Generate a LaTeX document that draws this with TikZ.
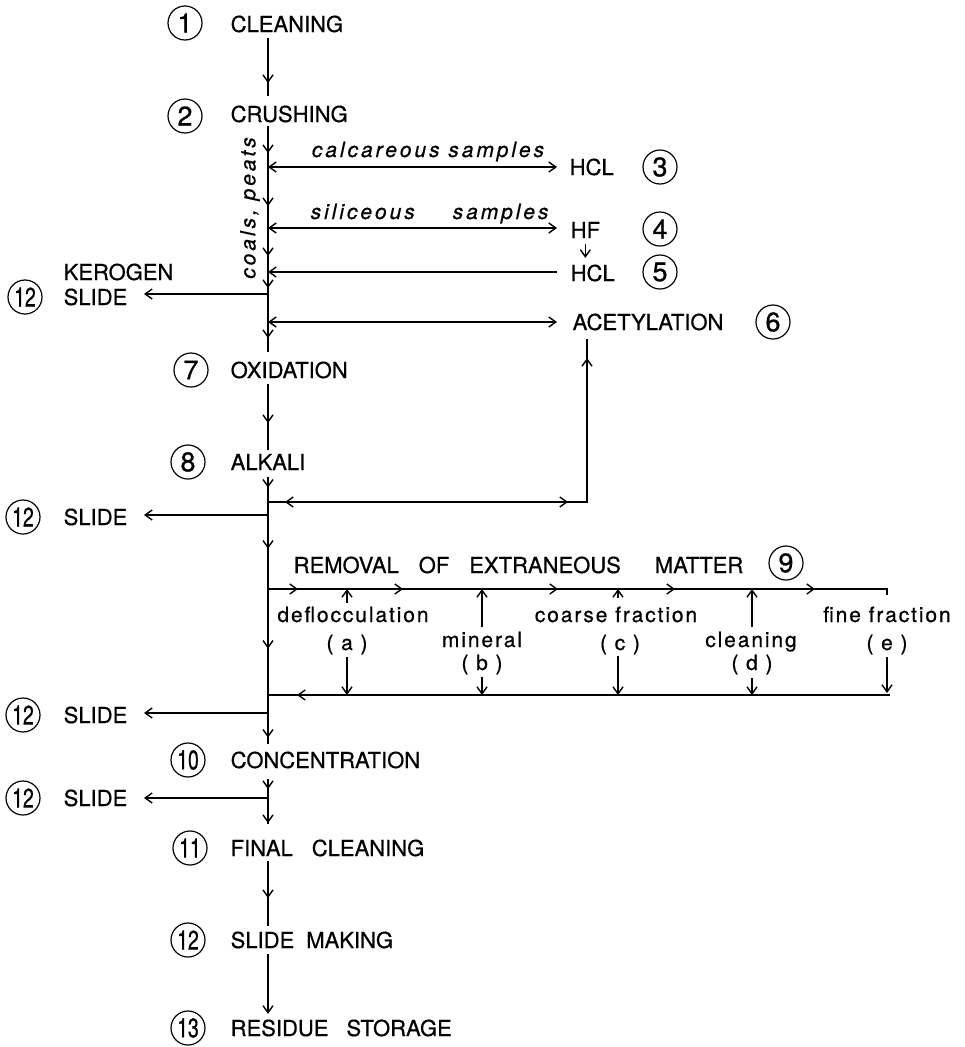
\documentclass[tikz,border=0pt]{standalone}
\usepackage{fontspec}
\usepackage{graphicx}
\setmainfont{TeX Gyre Heros}[FakeBold=0.6]
\newfontfamily\lcfont[LetterSpace=9,FakeBold=0.6]{TeX Gyre Heros}
\newfontfamily\itfont[LetterSpace=14,FakeBold=0.6]{TeX Gyre Heros Italic}
\usetikzlibrary{arrows.meta,decorations.markings,calc}
\newcommand\twodig[1]{\scalebox{0.72}[1]{#1}}
\tikzset{
  >={Straight Barb[length=7pt,width=10pt]},
  maintxt/.style={inner sep=0pt, anchor=base west, font=\fontsize{22}{26}\selectfont},
  lctxt/.style={inner sep=0pt, anchor=base, font=\lcfont\fontsize{21}{25}\selectfont},
  itxt/.style={inner sep=0pt, font=\itfont\fontsize{21}{25}\selectfont},
  num/.style={circle, draw, line width=1.2pt, minimum size=34pt, inner sep=0pt, font=\fontsize{27}{27}\selectfont},
  am/.style={postaction={decorate,decoration={markings,mark=at position #1 with {\arrow{>}}}}},
  amr/.style={postaction={decorate,decoration={markings,mark=at position #1 with {\arrowreversed{>}}}}},
}
\begin{document}
\begin{tikzpicture}[x=1pt,y=-1pt,line width=1.4pt]
\useasboundingbox (0,0) rectangle (965,1047);
\fill[white] (0,0) rectangle (965,1047);
% main steps
\node[num] (c1) at (185,23) {1};
\node[maintxt] (t1) at (230,32) {CLEANING};
\node[num] (c2) at (185,116) {2};
\node[maintxt] (t2) at (230,122) {CRUSHING};
\node[num] (c7) at (191,370) {7};
\node[maintxt] (t7) at (230,378) {OXIDATION};
\node[num] (c8) at (188,462) {8};
\node[maintxt] (t8) at (230,470) {ALKALI};
\node[num] (c10) at (188,760) {\twodig{10}};
\node[maintxt] (t10) at (230,768) {CONCENTRATION};
\node[num] (c11) at (190,848) {\twodig{11}};
\node[maintxt] (t11) at (230,856) {FINAL\hspace{19pt}CLEANING};
\node[num] (c12) at (188,940) {\twodig{12}};
\node[maintxt] (t12) at (230,948) {SLIDE\hspace{12pt}MAKING};
\node[num] (c13) at (188,1028) {\twodig{13}};
\node[maintxt] (t13) at (230,1036) {RESIDUE\hspace{18pt}STORAGE};
% right side
\node[maintxt] (hcl3) at (569,175) {HCL};
\node[num] (c3) at (660,167) {3};
\node[maintxt] (hf) at (570,238) {HF};
\node[num] (c4) at (660,229) {4};
\node[maintxt] (hcl5) at (570,281) {HCL};
\node[num] (c5) at (660,272) {5};
\node[maintxt] (acet) at (572,330) {ACETYLATION};
\node[num] (c6) at (773,322) {6};
% left side
\node[maintxt] (kero) at (63,280) {KEROGEN};
\node[maintxt] (ks) at (63,305) {SLIDE};
\node[num] (c12a) at (25,297) {\twodig{12}};
\node[maintxt] (s1) at (63,525) {SLIDE};
\node[num] (c12b) at (23,517) {\twodig{12}};
\node[maintxt] (s2) at (63,723) {SLIDE};
\node[num] (c12c) at (23,715) {\twodig{12}};
\node[maintxt] (s3) at (63,806) {SLIDE};
\node[num] (c12d) at (23,798) {\twodig{12}};
% removal
\node[maintxt] (rem) at (293,573) {REMOVAL\hspace{20pt}OF\hspace{20pt}EXTRANEOUS\hspace{34pt}MATTER};
\node[num] (c9) at (786,563) {9};
% lowercase labels
\node[itxt, anchor=base] (calc) at (428,157) {calcareous samples};
\node[itxt, anchor=base west] (sil) at (310,219) {siliceous\hspace{38pt}samples};
\node[itxt, rotate=90] (coal) at (250,208) {coals, peats};
\node[lctxt] (defl) at (353,622) {deflocculation};
\node[lctxt] (la) at (347,650) {( a )};
\node[lctxt] (mine) at (482,647) {mineral};
\node[lctxt] (lb) at (482,670) {( b )};
\node[lctxt] (coarse) at (616,622) {coarse fraction};
\node[lctxt] (lc) at (620,650) {( c )};
\node[lctxt] (clean) at (751,647) {cleaning};
\node[lctxt] (ld) at (752,670) {( d )};
\node[lctxt] (fine) at (887,622) {fine fraction};
\node[lctxt] (le) at (887,650) {( e )};
% coordinates
\coordinate (mx) at (268,0);
\foreach \n/\y in {j3/167, j4/228, j5/272, jk/294, j6/322, jr/502, js1/515, jt/589, jb/695, js2/713, js3/798}
  \coordinate (\n) at (268,\y);
\coordinate (ar) at (587,502);
\coordinate (ta) at (347,589); \coordinate (tb) at (482,589); \coordinate (tc) at (618,589);
\coordinate (td) at (752,589); \coordinate (te) at (887,589);
\coordinate (ba) at (347,695); \coordinate (bb) at (482,695); \coordinate (bc) at (618,695);
\coordinate (bd) at (752,695); \coordinate (be) at (887,695);
% main spine
\draw[am=45pt] ($(t1.south -| mx)+(0,5)$) -- ($(t2.north -| mx)+(0,-9)$);
\draw[am=27pt, am=80pt, am=130pt, am=162pt, am=212pt] ($(t2.south -| mx)+(0,3)$) -- ($(t7.north -| mx)+(0,-9)$);
\draw[am=39pt] ($(t7.south -| mx)+(0,5)$) -- ($(t8.north -| mx)+(0,-3)$);
\draw[am=11pt, am=72pt, am=172pt, am=261pt] ($(t8.south -| mx)+(0,6)$) -- ($(t10.north -| mx)+(0,-7)$);
\draw[am=10pt, am=44pt] ($(t10.south -| mx)+(0,10)$) -- ($(t11.north -| mx)+(0,-15)$);
\draw[am=37pt] ($(t11.south -| mx)+(0,4)$) -- ($(t12.north -| mx)+(0,-5)$);
\draw[->] ($(t12.south -| mx)+(0,5)$) -- ($(t13.north -| mx)+(0,-5)$);
% branches
\draw[<->, shorten >=12pt] (j3) -- (j3 -| hcl3.west);
\draw[<->, shorten >=13pt] (j4) -- (j4 -| hf.west);
\draw[->, shorten <=13pt] (j5 -| hcl5.west) -- (j5);
\draw[->, shorten <=5pt, shorten >=6pt] (hf.south) -- (hf.south |- hcl5.north);
\draw[->, shorten >=16pt] (jk) -- (jk -| ks.east);
\draw[<->, shorten >=15pt] (j6) -- (j6 -| acet.west);
\draw[amr=17pt, am=300pt, am=463pt] (jr) -- (ar) -- ($(acet.south -| ar)+(0,8)$);
\draw[->, shorten >=16pt] (js1) -- (js1 -| s1.east);
\draw[->, shorten >=16pt] (js2) -- (js2 -| s2.east);
\draw[->, shorten >=16pt] (js3) -- (js3 -| s3.east);
% removal loop
\draw[am=30pt, am=135pt, am=290pt, am=407pt, am=547pt] (jt) -- (te) -- ++(0,6);
\draw[->] ($(defl.north -| ta)+(0,-3)$) -- (ta);
\draw[->] ($(mine.north -| tb)+(0,-4)$) -- (tb);
\draw[->] ($(coarse.north -| tc)+(0,-8)$) -- (tc);
\draw[->] ($(clean.north -| td)+(0,-4)$) -- (td);
\draw[->] ($(la.south -| ba)+(0,2)$) -- (ba);
\draw[->] ($(lb.south -| bb)+(0,2)$) -- (bb);
\draw[->] ($(lc.south -| bc)+(0,1)$) -- (bc);
\draw[->] ($(ld.south -| bd)+(0,3)$) -- (bd);
\draw[->] ($(le.south -| be)+(0,2)$) -- ($(be)+(0,-2)$);
\draw[am=593pt] ($(be)+(3,0)$) -- (jb);
\end{tikzpicture}
\end{document}
